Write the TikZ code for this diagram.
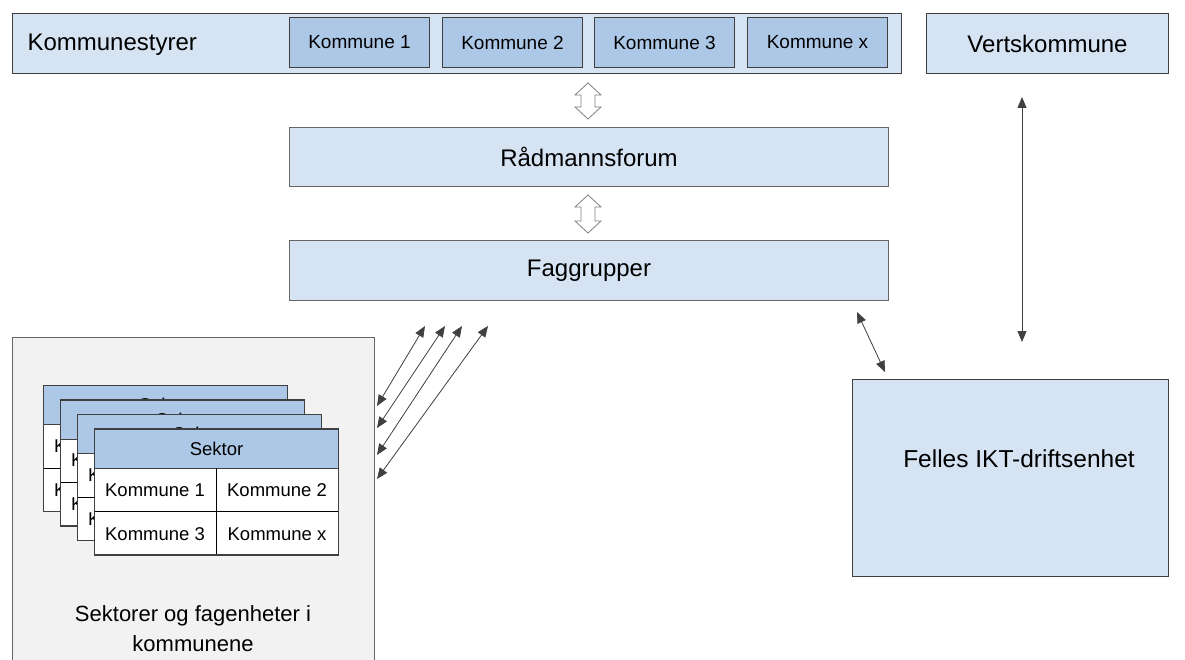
\documentclass[tikz,border=0pt]{standalone}
\usepackage{fontspec}
\setmainfont{Liberation Sans}
\usetikzlibrary{arrows.meta,calc}
\definecolor{lightbox}{HTML}{D6E3F3}
\definecolor{midbox}{HTML}{ADC8E6}
\definecolor{graybg}{HTML}{F2F2F2}
\definecolor{edgec}{HTML}{404040}
\definecolor{thin}{HTML}{A6A6A6}
\definecolor{hollowc}{HTML}{808080}
\begin{document}
\begin{tikzpicture}[x=1pt,y=-1pt,
  boxbase/.style={draw=edgec, line width=1pt, inner sep=0pt, anchor=north west},
  lbox/.style={boxbase, fill=lightbox},
  kbox/.style={boxbase, fill=midbox, minimum width=140pt, minimum height=50pt, font=\fontsize{19}{22}\selectfont},
  bigtext/.style={font=\fontsize{24}{28}\selectfont},
  cellt/.style={font=\fontsize{18.5}{22}\selectfont},
  conn/.style={draw=edgec, line width=0.8pt, {Triangle[length=11pt,width=9pt]}-{Triangle[length=11pt,width=9pt]}},
  hollow/.style={draw=hollowc, fill=white, line width=0.8pt, line join=miter}
]
\useasboundingbox (0,0) rectangle (1185,660);
\fill[white] (0,0) rectangle (1185,660);

% top row
\node[lbox, minimum width=889pt, minimum height=60pt] (styre) at (12,13) {};
\node[bigtext, anchor=west] (styretxt) at (24,45) {Kommunestyrer};
\node[kbox] (k1) at (289,17) {Kommune 1};
\node[kbox] (k2) at (442,17) {Kommune 2};
\node[kbox] (k3) at (594,17) {Kommune 3};
\node[kbox] (kx) at (747,17) {Kommune x};
\node[lbox, minimum width=242pt, minimum height=60pt, bigtext] (verts) at (926,13) {Vertskommune};

% middle boxes
\node[lbox, draw=edgec!80, minimum width=599pt, minimum height=59pt, bigtext] (rad) at (289,127) {Rådmannsforum};
\node[lbox, draw=edgec!80, minimum width=599pt, minimum height=60pt, bigtext] (fag) at (289,240) {Faggrupper};

% hollow double arrows
\foreach \t/\b [count=\i] in {83/119, 195/233}{
  \coordinate (ha\i) at (588,\t);
  \coordinate (hb\i) at (588,\b);
  \path[hollow] (ha\i) -- ++(13,12) -- ++(-6,0) -- ($(hb\i)+(7,-12)$) -- ++(6,0) -- (hb\i)
     -- ++(-13,-12) -- ++(6,0) -- ($(ha\i)+(-7,12)$) -- ++(-6,0) -- cycle;
}

% left gray box
\node[boxbase, draw=edgec!80, fill=graybg, minimum width=362pt, minimum height=340pt] (sek) at (12,337) {};
\node[font=\fontsize{22}{30}\selectfont, align=center, anchor=north] (sektxt) at (193,602) {Sektorer og fagenheter i\\kommunene};

% sector cards
\foreach \i in {0,1,2,3}{
  \pgfmathsetmacro{\cx}{43+17*\i}
  \pgfmathsetmacro{\cy}{385+14.6*\i}
  \begin{scope}[shift={(\cx,\cy)}]
    \node[boxbase, fill=white, minimum width=244pt, minimum height=126pt] (card\i) at (0,0) {};
    \node[boxbase, fill=midbox, minimum width=244pt, minimum height=39pt, cellt] (head\i) at (0,0) {Sektor};
    \draw[thin, line width=0.8pt] (122,39) -- (122,126);
    \draw[thin, line width=0.8pt] (0,83) -- (244,83);
    \draw[edgec, line width=1pt] (0,0) rectangle (244,126);
    \node[cellt] (c1\i) at (61,61) {Kommune 1};
    \node[cellt] (c2\i) at (183,61) {Kommune 2};
    \node[cellt] (c3\i) at (61,105) {Kommune 3};
    \node[cellt] (c4\i) at (183,105) {Kommune x};
  \end{scope}
}

% diagonal arrows
\coordinate (d1a) at (425,326); \coordinate (d1b) at (377,406);
\coordinate (d2a) at (445,326); \coordinate (d2b) at (377,428);
\coordinate (d3a) at (462,326); \coordinate (d3b) at (377,455);
\coordinate (d4a) at (488,326); \coordinate (d4b) at (377,479);
\foreach \i in {1,2,3,4}{ \draw[conn] (d\i a) -- (d\i b); }

% right side
\node[lbox, minimum width=316pt, minimum height=197pt] (felles) at (852,379) {};
\node[font=\fontsize{24.5}{28}\selectfont] (fellestxt) at (1019,459) {Felles IKT-driftsenhet};
\coordinate (va) at (1022,97); \coordinate (vb) at (1022,342);
\draw[conn] (va) -- (vb);
\coordinate (fa) at (857,312); \coordinate (fb) at (885,372);
\draw[conn] (fa) -- (fb);
\end{tikzpicture}
\end{document}
